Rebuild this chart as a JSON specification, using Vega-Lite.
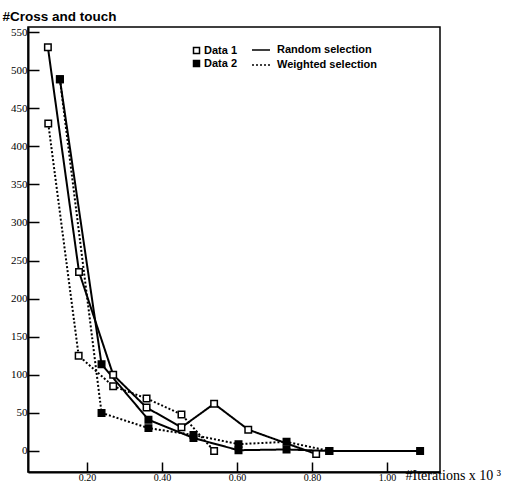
{
  "$schema": "https://vega.github.io/schema/vega-lite/v6.json",
  "width": 412,
  "height": 445,
  "autosize": {"type": "none"},
  "padding": {"left": 28, "top": 27, "right": 67, "bottom": 15},
  "background": "white",
  "config": {
    "view": {"stroke": "black", "strokeWidth": 1.5},
    "axis": {
      "domainColor": "black",
      "domainWidth": 2,
      "tickColor": "black",
      "tickWidth": 1.5,
      "grid": false,
      "labelFont": "Liberation Serif",
      "labelColor": "black",
      "titleColor": "black"
    }
  },
  "data": {
    "values": [
      {"x": 0.096, "y": 530, "data": "Data 1", "sel": "Random selection", "series": "D1R"},
      {"x": 0.179, "y": 235, "data": "Data 1", "sel": "Random selection", "series": "D1R"},
      {"x": 0.270, "y": 100, "data": "Data 1", "sel": "Random selection", "series": "D1R"},
      {"x": 0.359, "y": 57, "data": "Data 1", "sel": "Random selection", "series": "D1R"},
      {"x": 0.452, "y": 31, "data": "Data 1", "sel": "Random selection", "series": "D1R"},
      {"x": 0.539, "y": 62, "data": "Data 1", "sel": "Random selection", "series": "D1R"},
      {"x": 0.630, "y": 28, "data": "Data 1", "sel": "Random selection", "series": "D1R"},
      {"x": 0.811, "y": -4, "data": "Data 1", "sel": "Random selection", "series": "D1R"},
      {"x": 0.097, "y": 430, "data": "Data 1", "sel": "Weighted selection", "series": "D1W"},
      {"x": 0.178, "y": 125, "data": "Data 1", "sel": "Weighted selection", "series": "D1W"},
      {"x": 0.270, "y": 85, "data": "Data 1", "sel": "Weighted selection", "series": "D1W"},
      {"x": 0.359, "y": 69, "data": "Data 1", "sel": "Weighted selection", "series": "D1W"},
      {"x": 0.452, "y": 48, "data": "Data 1", "sel": "Weighted selection", "series": "D1W"},
      {"x": 0.539, "y": 0, "data": "Data 1", "sel": "Weighted selection", "series": "D1W"},
      {"x": 0.128, "y": 488, "data": "Data 2", "sel": "Random selection", "series": "D2R"},
      {"x": 0.239, "y": 114, "data": "Data 2", "sel": "Random selection", "series": "D2R"},
      {"x": 0.364, "y": 41, "data": "Data 2", "sel": "Random selection", "series": "D2R"},
      {"x": 0.484, "y": 17, "data": "Data 2", "sel": "Random selection", "series": "D2R"},
      {"x": 0.604, "y": 1, "data": "Data 2", "sel": "Random selection", "series": "D2R"},
      {"x": 0.732, "y": 2, "data": "Data 2", "sel": "Random selection", "series": "D2R"},
      {"x": 0.846, "y": 0, "data": "Data 2", "sel": "Random selection", "series": "D2R"},
      {"x": 1.088, "y": 0, "data": "Data 2", "sel": "Random selection", "series": "D2R"},
      {"x": 0.128, "y": 488, "data": "Data 2", "sel": "Weighted selection", "series": "D2W"},
      {"x": 0.239, "y": 50, "data": "Data 2", "sel": "Weighted selection", "series": "D2W"},
      {"x": 0.364, "y": 30, "data": "Data 2", "sel": "Weighted selection", "series": "D2W"},
      {"x": 0.484, "y": 21, "data": "Data 2", "sel": "Weighted selection", "series": "D2W"},
      {"x": 0.604, "y": 9, "data": "Data 2", "sel": "Weighted selection", "series": "D2W"},
      {"x": 0.732, "y": 12, "data": "Data 2", "sel": "Weighted selection", "series": "D2W"},
      {"x": 0.846, "y": 0, "data": "Data 2", "sel": "Weighted selection", "series": "D2W"}
    ]
  },
  "encoding": {
    "x": {
      "field": "x",
      "type": "quantitative",
      "scale": {"domain": [0.043, 1.141], "nice": false, "zero": false},
      "axis": {
        "values": [0.2, 0.4, 0.6, 0.8, 1.0],
        "format": ".2f",
        "tickSize": -10,
        "labelPadding": 10,
        "labelFontSize": 10,
        "labelBaseline": "top",
        "labelDx": -3,
        "title": "#Iterations x 10 ³",
        "titleFont": "Liberation Serif",
        "titleFontWeight": "normal",
        "titleFontSize": 14,
        "titleAlign": "left",
        "titleBaseline": "middle",
        "titleAnchor": "start",
        "titleX": 377,
        "titleY": 3
      }
    },
    "y": {
      "field": "y",
      "type": "quantitative",
      "scale": {"domain": [-27.6, 556.6], "nice": false, "zero": false},
      "axis": {
        "values": [0, 50, 100, 150, 200, 250, 300, 350, 400, 450, 500, 550],
        "tickSize": -11,
        "labelPadding": 12,
        "labelFontSize": 11,
        "title": "#Cross and touch",
        "titleFont": "Liberation Sans",
        "titleFontWeight": "bold",
        "titleFontSize": 13.5,
        "titleAngle": 0,
        "titleAlign": "left",
        "titleBaseline": "alphabetic",
        "titleAnchor": "start",
        "titleX": -26,
        "titleY": -7
      }
    }
  },
  "layer": [
    {
      "mark": {"type": "line", "color": "black", "strokeWidth": 2},
      "encoding": {
        "detail": {"field": "series"},
        "strokeDash": {
          "field": "sel",
          "type": "nominal",
          "scale": {"domain": ["Random selection", "Weighted selection"], "range": [[1, 0], [2, 2]]},
          "legend": {
            "title": null,
            "orient": "none",
            "legendX": 223,
            "legendY": 13,
            "padding": 0,
            "symbolType": "stroke",
            "symbolStrokeColor": "black",
            "symbolStrokeWidth": 1.5,
            "symbolSize": 324,
            "labelFont": "Liberation Sans",
            "labelFontWeight": "bold",
            "labelFontSize": 11,
            "labelColor": "black",
            "labelOffset": 6,
            "rowPadding": -4
          }
        }
      }
    },
    {
      "mark": {"type": "point", "shape": "square", "filled": true, "size": 42, "stroke": "black", "strokeWidth": 1.5, "opacity": 1},
      "encoding": {
        "fill": {
          "field": "data",
          "type": "nominal",
          "scale": {"domain": ["Data 1", "Data 2"], "range": ["white", "black"]},
          "legend": {
            "title": null,
            "orient": "none",
            "legendX": 163,
            "legendY": 18,
            "padding": 0,
            "symbolType": "square",
            "symbolStrokeColor": "black",
            "symbolStrokeWidth": 1.5,
            "symbolSize": 36,
            "labelFont": "Liberation Sans",
            "labelFontWeight": "bold",
            "labelFontSize": 11,
            "labelColor": "black",
            "labelOffset": 2,
            "rowPadding": 0
          }
        }
      }
    }
  ]
}
